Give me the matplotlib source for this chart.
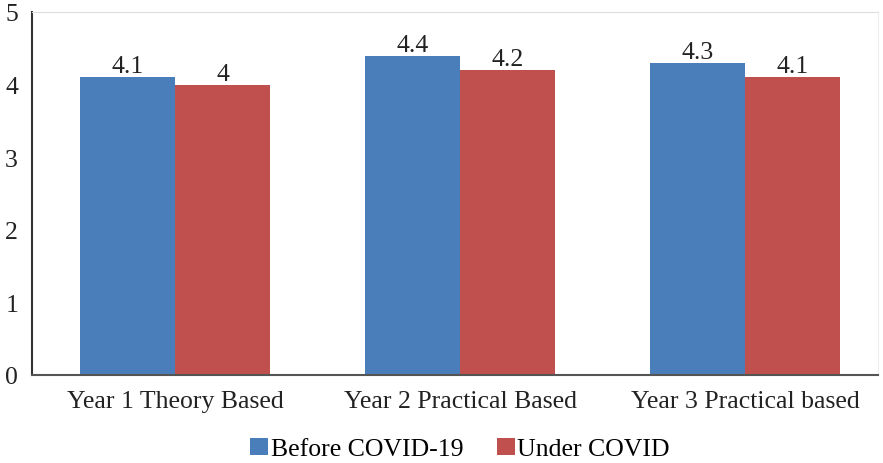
import matplotlib
matplotlib.use("Agg")
import matplotlib.pyplot as plt
import numpy as np

categories = ["Year 1 Theory Based", "Year 2 Practical Based", "Year 3 Practical based"]
before = [4.1, 4.4, 4.3]
under = [4.0, 4.2, 4.1]
series_names = ["Before COVID-19", "Under COVID"]

plt.rcParams['font.family'] = ['Liberation Serif', 'DejaVu Serif']

W, H = 883, 464
fig = plt.figure(figsize=(W / 100, H / 100), dpi=100)
left, right, top, bottom = 32, 878, 13, 376
ax = fig.add_axes([left / W, (H - bottom) / H, (right - left) / W, (bottom - top) / H])

x = np.arange(len(categories))
bw = 1 / 3
c1, c2 = "#4A7EBB", "#C0504D"
b1 = ax.bar(x - bw / 2, before, bw, color=c1, label=series_names[0])
b2 = ax.bar(x + bw / 2, under, bw, color=c2, label=series_names[1])

fs = 18.5
for bars, vals in ((b1, before), (b2, under)):
    for r, v in zip(bars, vals):
        ax.annotate(f"{v:g}", (r.get_x() + r.get_width() / 2, v), xytext=(0, 0),
                    textcoords="offset points", ha="center", va="bottom", fontsize=fs, color="#222222")

px = 285
ax.set_xlim(-(175 - left) / px, (right - 175) / px)
ax.set_ylim(0, 5)
ax.set_yticks([0, 1, 2, 3, 4, 5])
ax.set_xticks(x)
ax.set_xticklabels(categories)
ax.tick_params(axis='both', length=0, labelsize=fs, colors="#222222")
ax.tick_params(axis='x', pad=11)
ax.tick_params(axis='y', pad=10)

ax.spines['left'].set_color("#333333")
ax.spines['left'].set_linewidth(1.5)
ax.spines['bottom'].set_color("#555555")
ax.spines['bottom'].set_linewidth(1.5)
ax.spines['top'].set_color("#dddddd")
ax.spines['right'].set_color("#eeeeee")

fig.legend(handles=[b1, b2], loc="center", bbox_to_anchor=(460 / W, 1 - 450 / H), ncol=2,
           frameon=False, fontsize=fs, handlelength=0.7, handleheight=0.7,
           handletextpad=0.1, columnspacing=1.3)

fig.savefig("out.png", dpi=100)
